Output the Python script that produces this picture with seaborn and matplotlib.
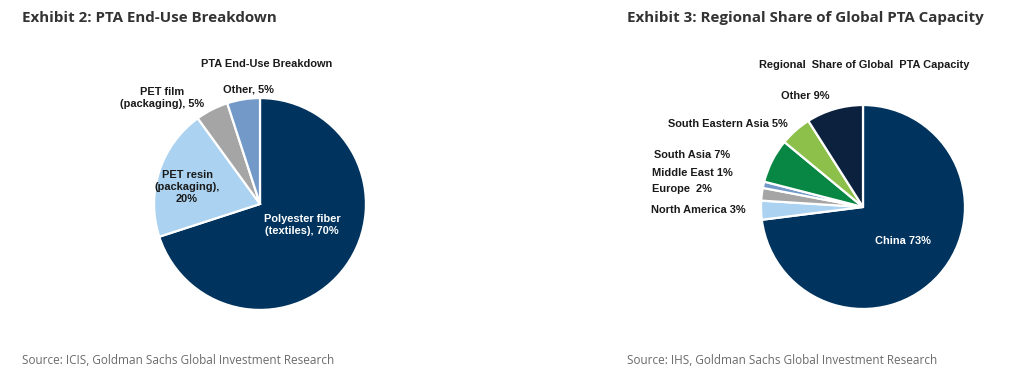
import matplotlib
matplotlib.use("Agg")
import matplotlib.pyplot as plt
import seaborn as sns

# Exhibit 2 data
enduse_labels = ["Polyester fiber\n(textiles), 70%", "PET resin\n(packaging),\n20%",
                 "PET film\n(packaging), 5%", "Other, 5%"]
enduse_values = [70, 20, 5, 5]
enduse_colors = ["#00335e", "#abd3f1", "#a5a5a5", "#7299c8"]

# Exhibit 3 data
region_labels = ["China 73%", "North America 3%", "Europe  2%", "Middle East 1%",
                 "South Asia 7%", "South Eastern Asia 5%", "Other 9%"]
region_values = [73, 3, 2, 1, 7, 5, 9]
region_colors = ["#00335e", "#abd3f1", "#a5a5a5", "#7299c8", "#078743", "#8cc04a", "#0b213d"]

sns.set_theme(style="white")
plt.rcParams["font.family"] = ["Liberation Sans", "DejaVu Sans"]

W, H = 1027, 386
fig = plt.figure(figsize=(W / 100, H / 100), dpi=100)


def px(x, y):
    return x / W, 1 - y / H


def pie_axes(cx, cy, r):
    ax = fig.add_axes([(cx - r) / W, (H - cy - r) / H, 2 * r / W, 2 * r / H])
    return ax


def draw_pie(ax, values, colors):
    ax.pie(values, colors=colors, startangle=90, counterclock=False,
           wedgeprops=dict(edgecolor="white", linewidth=1.6))
    ax.set_xlim(-1.01, 1.01)
    ax.set_ylim(-1.01, 1.01)
    ax.set_aspect("equal")
    ax.axis("off")


ax1 = pie_axes(260, 204, 107)
draw_pie(ax1, enduse_values, enduse_colors)
ax2 = pie_axes(863, 207, 103)
draw_pie(ax2, region_values, region_colors)

# headers
head = dict(family=["Open Sans", "DejaVu Sans"], fontweight="bold", fontsize=10.9,
            color="#333333", va="center", ha="left")
fig.text(*px(22, 18), "Exhibit 2: PTA End-Use Breakdown", **head)
fig.text(*px(627, 18), "Exhibit 3: Regional Share of Global PTA Capacity", **head)

src = dict(family=["Open Sans", "DejaVu Sans"], fontsize=8.5, color="#6b6b6b",
           va="center", ha="left")
fig.text(*px(22, 361), "Source: ICIS, Goldman Sachs Global Investment Research", **src)
fig.text(*px(627, 361), "Source: IHS, Goldman Sachs Global Investment Research", **src)

fs = 7.9
inner = dict(fontweight="bold", fontsize=fs, color="#1a1a1a", va="center")
fig.text(*px(267, 64), "PTA End-Use Breakdown", ha="center", **inner)
fig.text(*px(864, 65), "Regional  Share of Global  PTA Capacity", ha="center", **inner)

lab3 = dict(fontweight="bold", fontsize=fs, va="center", linespacing=1.2)
lab = dict(lab3, color="#1a1a1a")
# Exhibit 2 labels
fig.text(*px(302, 225), enduse_labels[0], ha="center", color="white", **lab3)
fig.text(*px(187, 187), enduse_labels[1], ha="center", **lab)
fig.text(*px(162, 98), enduse_labels[2], ha="center", **lab)
fig.text(*px(248, 89), enduse_labels[3], ha="center", **lab)

# Exhibit 3 labels
fig.text(*px(903, 241), region_labels[0], ha="center", color="white", **lab3)
fig.text(*px(651, 210), region_labels[1], ha="left", **lab)
fig.text(*px(652, 189), region_labels[2], ha="left", **lab)
fig.text(*px(652, 173), region_labels[3], ha="left", **lab)
fig.text(*px(654, 155), region_labels[4], ha="left", **lab)
fig.text(*px(668, 124), region_labels[5], ha="left", **lab)
fig.text(*px(781, 96), region_labels[6], ha="left", **lab)

fig.savefig("out.png", dpi=100, facecolor="white")
